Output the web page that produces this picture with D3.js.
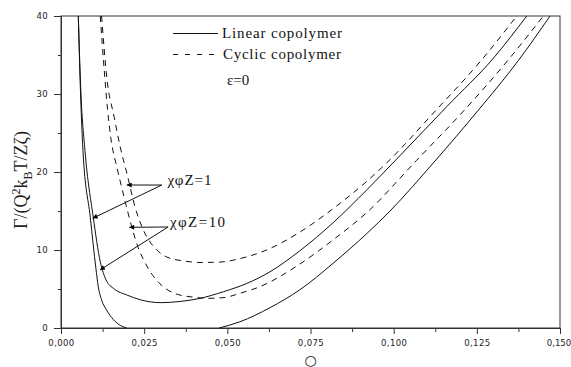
<!DOCTYPE html>
<html>
<head>
<meta charset="utf-8">
<script src="https://cdn.jsdelivr.net/npm/d3@7/dist/d3.min.js"></script>
<style>
  html, body { margin: 0; padding: 0; background: #fff; }
  svg { display: block; }
</style>
</head>
<body>
<svg id="chart" width="571" height="367"></svg>
<script>
// ---------- data ----------
const xTicks = [0, 0.025, 0.05, 0.075, 0.1, 0.125, 0.15];
const xMinorTicks = [0.0125, 0.0375, 0.0625, 0.0875, 0.1125, 0.1375];
const yTicks = [0, 10, 20, 30, 40];
const yMinorTicks = [5, 15, 25, 35];

// Linear copolymer, χφZ = 1
const linear1X = [0.0052, 0.0060, 0.0072, 0.0097, 0.0118, 0.0135, 0.0160, 0.0197, 0.0240, 0.0300, 0.0358, 0.0418, 0.0488, 0.0558, 0.0628, 0.0718, 0.0818, 0.0919, 0.1019, 0.1160, 0.1300, 0.1400];
const linear1Y = [40, 30, 22.8, 14.2, 8.5, 6.2, 5.0, 4.25, 3.6, 3.25, 3.4, 3.8, 4.65, 5.7, 7.2, 9.9, 13.5, 17.7, 22.1, 28.4, 34.6, 40];

// Linear copolymer, χφZ = 10 (left branch, then right branch; negative part off-scale)
const linear10LeftX = [0.0052, 0.0058, 0.0066, 0.0088, 0.0105, 0.0112, 0.0122, 0.0137, 0.0157, 0.0180, 0.0197];
const linear10LeftY = [40, 31, 22.8, 14.2, 7.6, 5.3, 3.6, 2.3, 1.1, 0.3, 0];
const linear10RightX = [0.0475, 0.0538, 0.0628, 0.0718, 0.0818, 0.0919, 0.0989, 0.1124, 0.1254, 0.1375, 0.1470];
const linear10RightY = [0, 0.8, 2.6, 4.9, 8.3, 12.1, 15.0, 21.4, 27.9, 34.3, 40];

// Cyclic copolymer, χφZ = 1
const cyclic1X = [0.0122, 0.0138, 0.0160, 0.0177, 0.0200, 0.0222, 0.0245, 0.0265, 0.0288, 0.0318, 0.0368, 0.0418, 0.0478, 0.0538, 0.0618, 0.0718, 0.0818, 0.0919, 0.0975, 0.1129, 0.1265, 0.1370];
const cyclic1Y = [40, 32, 27.0, 23.4, 19.5, 15.6, 12.8, 11.2, 10.0, 9.1, 8.6, 8.4, 8.45, 8.9, 10.0, 12.3, 15.3, 18.8, 21.0, 28.0, 34.4, 40];

// Cyclic copolymer, χφZ = 10
const cyclic10X = [0.0118, 0.0130, 0.0140, 0.0150, 0.0168, 0.0185, 0.0200, 0.0215, 0.0232, 0.0250, 0.0270, 0.0290, 0.0338, 0.0398, 0.0443, 0.0490, 0.0538, 0.0598, 0.0718, 0.0818, 0.0919, 0.1069, 0.1214, 0.1345, 0.1450];
const cyclic10Y = [40, 33, 28.0, 24.3, 20.6, 17.6, 15.0, 12.6, 10.3, 8.6, 7.1, 6.0, 4.5, 3.95, 3.8, 3.9, 4.45, 5.3, 8.2, 11.3, 14.8, 21.5, 28.0, 34.4, 40];

const legendLabels = ["Linear copolymer", "Cyclic copolymer"];
const noteText = "ε=0";
const annotLabels = ["χφZ=1", "χφZ=10"];
// annotation anchors in data units: label start, arrow tips
const annotLabelX = [0.0320, 0.0328];
const annotLabelY = [18.33, 12.95];
const annotStartX = [0.0303, 0.0322];
const annotTip1X = [0.01975, 0.0205];
const annotTip1Y = [18.33, 12.91];
const annotTip2X = [0.0095, 0.0117];
const annotTip2Y = [14.06, 7.44];

// ---------- layout ----------
const svg = d3.select("#chart");
const L = 61, R = 560, T = 16, B = 328;
const x = d3.scaleLinear().domain([0, 0.15]).range([L, R]);
const y = d3.scaleLinear().domain([0, 40]).range([B, T]);

const commaLocale = d3.formatLocale({decimal: ",", thousands: ".", grouping: [3], currency: ["", ""]});
const fmtX = commaLocale.format(".3f");

const defs = svg.append("defs");
defs.append("clipPath").attr("id", "clip")
  .append("rect").attr("x", L).attr("y", T).attr("width", R - L).attr("height", B - T);
defs.append("marker").attr("id", "arr")
  .attr("viewBox", "0 0 10 10").attr("refX", 10).attr("refY", 5)
  .attr("markerWidth", 7).attr("markerHeight", 5).attr("orient", "auto")
  .attr("markerUnits", "userSpaceOnUse")
  .append("path").attr("d", "M0,0 L10,5 L0,10 Z").attr("fill", "#000");

// ---------- axes ----------
const axisColor = "#333";
const gx = svg.append("g").attr("transform", `translate(0,${B})`)
  .call(d3.axisBottom(x).tickValues(xTicks).tickSize(6).tickSizeOuter(0).tickPadding(6).tickFormat(fmtX));
svg.append("g").attr("transform", `translate(0,${B})`)
  .call(d3.axisBottom(x).tickValues(xMinorTicks).tickSize(4).tickSizeOuter(0).tickFormat(""));
svg.append("g").attr("transform", `translate(${L},0)`)
  .call(d3.axisLeft(y).tickValues(yTicks).tickSize(7).tickSizeOuter(0).tickPadding(6));
svg.append("g").attr("transform", `translate(${L},0)`)
  .call(d3.axisLeft(y).tickValues(yMinorTicks).tickSize(3).tickSizeOuter(0).tickFormat(""));

svg.selectAll(".domain").attr("stroke", axisColor);
svg.selectAll(".tick line").attr("stroke", axisColor);
svg.selectAll(".tick text")
  .attr("font-family", "DejaVu Sans, sans-serif")
  .attr("font-size", 8.5)
  .attr("fill", "#222")
  .attr("letter-spacing", 0.4);
// keep the last x label inside the page edge
gx.selectAll(".tick text").filter(d => d === 0.15)
  .attr("letter-spacing", 0).attr("dx", -1.5);

// frame
svg.append("rect").attr("x", L).attr("y", T).attr("width", R - L).attr("height", B - T)
  .attr("fill", "none").attr("stroke", axisColor).attr("stroke-width", 1);

// ---------- curves ----------
const line = d3.line().x(d => x(d[0])).y(d => y(d[1])).curve(d3.curveMonotoneX);
const zipXY = (xs, ys) => xs.map((v, i) => [v, ys[i]]);

const series = [
  {data: zipXY(linear1X, linear1Y), dash: null},
  {data: zipXY(linear10LeftX, linear10LeftY), dash: null},
  {data: zipXY(linear10RightX, linear10RightY), dash: null},
  {data: zipXY(cyclic1X, cyclic1Y), dash: "6,5"},
  {data: zipXY(cyclic10X, cyclic10Y), dash: "6,5"}
];
const gc = svg.append("g").attr("clip-path", "url(#clip)");
series.forEach(s => {
  gc.append("path").attr("d", line(s.data))
    .attr("fill", "none").attr("stroke", "#111").attr("stroke-width", 1)
    .attr("stroke-dasharray", s.dash);
});

// ---------- axis titles ----------
const serif = "Liberation Serif, Times New Roman, serif";
svg.append("text").attr("x", x(0.075)).attr("y", 365)
  .attr("text-anchor", "middle").attr("font-family", "DejaVu Sans, sans-serif")
  .attr("font-size", 14).attr("fill", "#222").text("○");

const yt = svg.append("text").attr("transform", "translate(27,180) rotate(-90)")
  .attr("text-anchor", "middle").attr("font-family", serif).attr("font-size", 18).attr("fill", "#222");
yt.append("tspan").text("Γ/(Q");
yt.append("tspan").attr("font-size", 12).attr("dy", -7).text("2");
yt.append("tspan").attr("dy", 7).text("k");
yt.append("tspan").attr("font-size", 12).attr("dy", 5).text("B");
yt.append("tspan").attr("dy", -5).text("T/Zζ)");

// ---------- legend ----------
svg.append("line").attr("x1", 173).attr("x2", 218).attr("y1", 33.5).attr("y2", 33.5)
  .attr("stroke", "#111").attr("stroke-width", 1);
svg.append("line").attr("x1", 173).attr("x2", 214).attr("y1", 54.5).attr("y2", 54.5)
  .attr("stroke", "#111").attr("stroke-width", 1).attr("stroke-dasharray", "5,7");
svg.append("text").attr("x", 222).attr("y", 38).attr("font-family", serif).attr("font-size", 15)
  .attr("fill", "#111").attr("textLength", 120).attr("lengthAdjust", "spacing").text(legendLabels[0]);
svg.append("text").attr("x", 223).attr("y", 59).attr("font-family", serif).attr("font-size", 15)
  .attr("fill", "#111").attr("textLength", 118).attr("lengthAdjust", "spacing").text(legendLabels[1]);
svg.append("text").attr("x", 227).attr("y", 85).attr("font-family", serif).attr("font-size", 15)
  .attr("fill", "#111").text(noteText);

// ---------- annotations ----------
annotLabels.forEach((lbl, i) => {
  svg.append("text").attr("x", x(annotLabelX[i])).attr("y", y(annotLabelY[i]))
    .attr("font-family", serif).attr("font-size", 15).attr("fill", "#111")
    .attr("textLength", i === 0 ? 44 : 55).attr("lengthAdjust", "spacing").text(lbl);
  svg.append("line").attr("x1", x(annotStartX[i])).attr("y1", y(annotLabelY[i]))
    .attr("x2", x(annotTip1X[i])).attr("y2", y(annotTip1Y[i]))
    .attr("stroke", "#111").attr("stroke-width", 1).attr("marker-end", "url(#arr)");
  svg.append("line").attr("x1", x(annotStartX[i])).attr("y1", y(annotLabelY[i]))
    .attr("x2", x(annotTip2X[i])).attr("y2", y(annotTip2Y[i]))
    .attr("stroke", "#111").attr("stroke-width", 1).attr("marker-end", "url(#arr)");
});
</script>
</body>
</html>
